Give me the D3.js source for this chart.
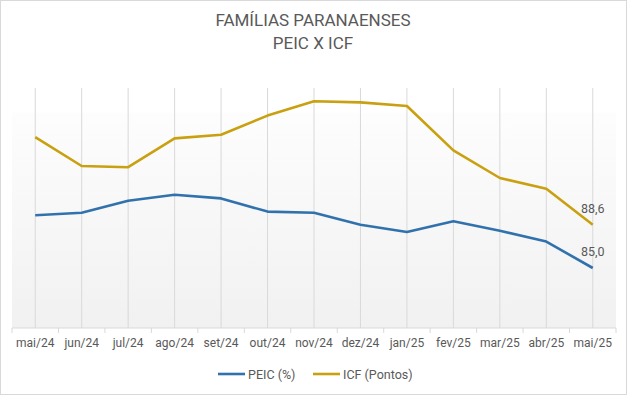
<!DOCTYPE html>
<html>
<head>
<meta charset="utf-8">
<title>Famílias Paranaenses - PEIC x ICF</title>
<script src="https://cdnjs.cloudflare.com/ajax/libs/d3/7.8.5/d3.min.js"></script>
<style>
  body { margin: 0; background: #fff; }
  text { font-family: Roboto, "Liberation Sans", sans-serif; fill: #595959; }
  .title { font-size: 17px; text-anchor: middle; }
  .tick-label { font-size: 12px; text-anchor: middle; }
  .legend text { font-size: 12.5px; }
  .data-label { font-size: 12.5px; text-anchor: middle; }
</style>
</head>
<body>
<svg width="627" height="395"></svg>
<script>
// data
var months = ["mai/24", "jun/24", "jul/24", "ago/24", "set/24", "out/24", "nov/24",
              "dez/24", "jan/25", "fev/25", "mar/25", "abr/25", "mai/25"];
var peic = [89.4, 89.6, 90.6, 91.1, 90.8, 89.7, 89.6, 88.6, 88.0, 88.9, 88.1, 87.2, 85.0];
var icf  = [95.9, 93.5, 93.4, 95.8, 96.1, 97.7, 98.9, 98.8, 98.5, 94.8, 92.5, 91.6, 88.6];
var yDomain = [80, 100];

var series = [
  {name: "PEIC (%)", values: peic, color: "#3172ad"},
  {name: "ICF (Pontos)", values: icf, color: "#c9a00f"}
];

var svg = d3.select("svg"),
    width = +svg.attr("width"),
    height = +svg.attr("height");

var plot = {left: 12, right: 616, top: 88, bottom: 328};

// outer border
svg.append("rect")
    .attr("x", 0.5).attr("y", 0.5)
    .attr("width", width - 1).attr("height", height - 1)
    .attr("fill", "#fff")
    .attr("stroke", "#d9d9d9");

// title
svg.append("text").attr("class", "title").attr("x", 313).attr("y", 26).text("FAMÍLIAS PARANAENSES");
svg.append("text").attr("class", "title").attr("x", 313).attr("y", 49).text("PEIC X ICF");

var x = d3.scaleBand()
    .domain(months)
    .range([plot.left, plot.right]);

var y = d3.scaleLinear()
    .domain(yDomain)
    .range([plot.bottom, plot.top]);

// plot background gradient
var grad = svg.append("defs").append("linearGradient")
    .attr("id", "bg").attr("x1", 0).attr("y1", 0).attr("x2", 0).attr("y2", 1);
grad.append("stop").attr("offset", "0%").attr("stop-color", "#ffffff");
grad.append("stop").attr("offset", "10%").attr("stop-color", "#ffffff");
grad.append("stop").attr("offset", "10.5%").attr("stop-color", "#fdfdfd");
grad.append("stop").attr("offset", "100%").attr("stop-color", "#f1f1f1");

svg.append("rect")
    .attr("x", plot.left).attr("y", plot.top)
    .attr("width", plot.right - plot.left)
    .attr("height", plot.bottom - plot.top)
    .attr("fill", "url(#bg)");

function cx(d) { return x(d) + x.bandwidth() / 2; }

// vertical gridlines
svg.append("g").selectAll("line")
    .data(months)
  .enter().append("line")
    .attr("x1", cx).attr("x2", cx)
    .attr("y1", plot.top).attr("y2", plot.bottom)
    .attr("stroke", "#d9d9d9")
    .attr("stroke-width", 1);

// x axis
var xAxis = svg.append("g")
    .attr("transform", "translate(0," + plot.bottom + ")");
xAxis.append("line")
    .attr("x1", plot.left).attr("x2", plot.right)
    .attr("stroke", "#d9d9d9");
var bounds = months.map(function(d) { return x(d); }).concat([plot.right]);
xAxis.selectAll(".tk")
    .data(bounds)
  .enter().append("line")
    .attr("x1", function(d) { return d; }).attr("x2", function(d) { return d; })
    .attr("y1", 0).attr("y2", 5)
    .attr("stroke", "#d9d9d9");
xAxis.selectAll(".tick-label")
    .data(months)
  .enter().append("text")
    .attr("class", "tick-label")
    .attr("x", cx)
    .attr("y", 19)
    .text(function(d) { return d; });

// lines
var line = d3.line()
    .x(function(d, i) { return cx(months[i]); })
    .y(function(d) { return y(d); });

svg.selectAll(".series")
    .data(series)
  .enter().append("path")
    .attr("class", "series")
    .attr("d", function(s) { return line(s.values); })
    .attr("fill", "none")
    .attr("stroke", function(s) { return s.color; })
    .attr("stroke-width", 2.6)
    .attr("stroke-linejoin", "round");

// last point labels
var fmt = function(v) { return v.toFixed(1).replace(".", ","); };
series.forEach(function(s) {
  var last = s.values.length - 1;
  svg.append("text")
      .attr("class", "data-label")
      .attr("x", cx(months[last]))
      .attr("y", y(s.values[last]) - 12)
      .text(fmt(s.values[last]));
});

// legend
var legend = svg.append("g").attr("class", "legend");
var legX = [218, 313];
series.forEach(function(s, i) {
  legend.append("line")
      .attr("x1", legX[i]).attr("x2", legX[i] + 27)
      .attr("y1", 374).attr("y2", 374)
      .attr("stroke", s.color)
      .attr("stroke-width", 2.6);
  legend.append("text")
      .attr("x", legX[i] + 30)
      .attr("y", 378.5)
      .text(s.name);
});
</script>
</body>
</html>
